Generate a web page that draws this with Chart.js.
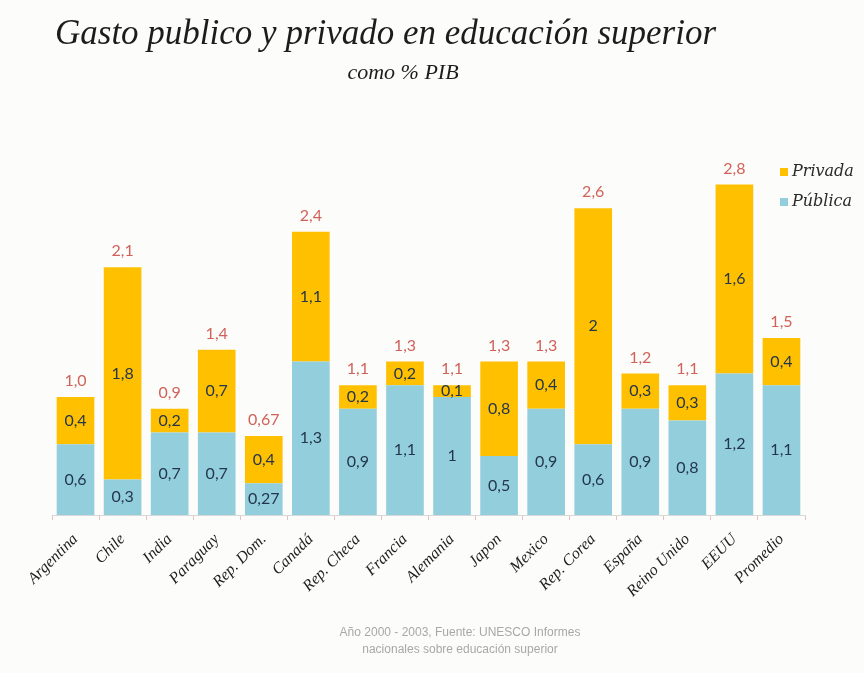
<!DOCTYPE html>
<html lang="es">
<head>
<meta charset="utf-8">
<title>Gasto publico y privado en educación superior</title>
<script src="https://cdn.jsdelivr.net/npm/chart.js@4.4.1/dist/chart.umd.min.js"></script>
<style>
  html, body { margin: 0; padding: 0; background: #fcfcfa; }
  #wrap { position: relative; width: 864px; height: 673px; overflow: hidden; }
  #wrap canvas { position: absolute; left: 0; top: 0; }
  .titulo {
    position: absolute; left: 55px; top: 13px;
    font: italic 35px 'Liberation Serif', 'DejaVu Serif', serif;
    color: #1c1c1c; white-space: nowrap; line-height: 40px;
  }
  .subtitulo {
    position: absolute; left: 0; width: 806px; top: 58px; text-align: center;
    font: italic 22px 'Liberation Serif', serif; color: #1c1c1c; line-height: 28px;
  }
  .fuente {
    position: absolute; left: 0; width: 920px; top: 624px; text-align: center;
    font: 12px 'Liberation Sans Narrow', 'Liberation Sans', sans-serif;
    color: #a8a8a8; line-height: 17px;
  }
</style>
</head>
<body>
<div id="wrap">
  <canvas id="grafico"></canvas>
  <div class="titulo">Gasto publico y privado en educación superior</div>
  <div class="subtitulo">como % PIB</div>
  <div class="fuente">Año 2000 - 2003, Fuente: UNESCO Informes<br>nacionales sobre educación superior</div>
</div>
<script>
// Gasto en educación superior como % del PIB, por país
const categorias = ['Argentina', 'Chile', 'India', 'Paraguay', 'Rep. Dom.', 'Canadá', 'Rep. Checa', 'Francia',
  'Alemania', 'Japon', 'Mexico', 'Rep. Corea', 'España', 'Reino Unido', 'EEUU', 'Promedio'];
const publica = [0.6, 0.3, 0.7, 0.7, 0.27, 1.3, 0.9, 1.1, 1, 0.5, 0.9, 0.6, 0.9, 0.8, 1.2, 1.1];
const privada = [0.4, 1.8, 0.2, 0.7, 0.4, 1.1, 0.2, 0.2, 0.1, 0.8, 0.4, 2, 0.3, 0.3, 1.6, 0.4];

const AZUL = '#93cedd';
const AMARILLO = '#ffc000';

function formato(v) {
  return String(v).replace('.', ',');
}

function formatoTotal(v) {
  const r = Math.round(v * 100) / 100;
  const txt = (Math.round(r * 10) / 10 === r) ? r.toFixed(1) : r.toFixed(2);
  return txt.replace('.', ',');
}

// valores dentro de cada segmento y total en rojo encima de la barra
const etiquetas = {
  id: 'etiquetas',
  afterDatasetsDraw(chart) {
    const { ctx } = chart;
    ctx.save();
    ctx.font = '16px Lato, sans-serif';
    ctx.textAlign = 'center';
    ctx.textBaseline = 'middle';
    chart.data.datasets.forEach((ds, i) => {
      chart.getDatasetMeta(i).data.forEach((bar, j) => {
        ctx.fillStyle = '#24364a';
        ctx.fillText(formato(ds.data[j]), bar.x, (bar.y + bar.base) / 2);
      });
    });
    const arriba = chart.getDatasetMeta(chart.data.datasets.length - 1);
    arriba.data.forEach((bar, j) => {
      ctx.fillStyle = '#d0625a';
      ctx.fillText(formatoTotal(publica[j] + privada[j]), bar.x, bar.y - 16);
    });
    ctx.restore();
  }
};

// leyenda arriba a la derecha, privada primero
const leyenda = {
  id: 'leyenda',
  afterDraw(chart) {
    const { ctx, chartArea } = chart;
    const x = chartArea.right - 25;
    let y = chartArea.top + 11;
    ctx.save();
    ctx.font = 'italic 16px "DejaVu Serif", serif';
    ctx.textBaseline = 'middle';
    [...chart.data.datasets].reverse().forEach(ds => {
      ctx.fillStyle = ds.backgroundColor;
      ctx.fillRect(x, y - 4, 8, 8);
      ctx.fillStyle = '#2a2a2a';
      ctx.fillText(ds.label, x + 12, y);
      y += 30;
    });
    ctx.restore();
  }
};

new Chart(document.getElementById('grafico'), {
  type: 'bar',
  data: {
    labels: categorias,
    datasets: [
      { label: 'Pública', data: publica, backgroundColor: AZUL },
      { label: 'Privada', data: privada, backgroundColor: AMARILLO },
    ],
  },
  options: {
    responsive: true,
    maintainAspectRatio: false,
    animation: false,
    events: [],
    categoryPercentage: 0.8,
    barPercentage: 1,
    layout: { padding: { left: 52, right: 59, top: 161, bottom: 38 } },
    plugins: {
      legend: { display: false },
      tooltip: { enabled: false },
    },
    scales: {
      x: {
        stacked: true,
        afterFit: (scale) => { scale.height = 120; },
        border: { display: true, color: '#d8d8d8', width: 1 },
        grid: { drawOnChartArea: false, drawTicks: true, tickLength: 5, color: '#e2c2c2' },
        ticks: {
          autoSkip: false,
          minRotation: 45,
          maxRotation: 45,
          padding: 10,
          color: '#1e1e1e',
          font: { family: "'Liberation Serif', serif", style: 'italic', size: 16 },
        },
      },
      y: {
        stacked: true,
        display: false,
        min: 0,
        max: 3,
      },
    },
  },
  plugins: [etiquetas, leyenda],
});
</script>
</body>
</html>
